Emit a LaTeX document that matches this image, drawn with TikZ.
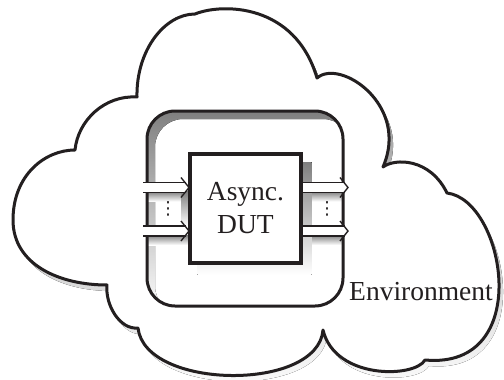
\documentclass[tikz,border=0pt]{standalone}
\usepackage{fontspec}
\setmainfont{Liberation Serif}
\newfontfamily\labelfont{Liberation Serif}
\newfontfamily\symbolfont{DejaVu Sans}
\usetikzlibrary{calc}

\definecolor{ink}{RGB}{35,31,32}
\definecolor{shade}{RGB}{178,179,183}

% outline of the environment cloud (pixel-like units, y downwards)
\newcommand\cloudoutline{(75,150) .. controls (78,120) and (105,95) .. (137,97)
 .. controls (136,50) and (165,14) .. (195,14)
 .. controls (222,3) and (295,3) .. (317,78)
 .. controls (340,58) and (410,105) .. (383,167)
 .. controls (395,158) and (430,158) .. (447,193)
 .. controls (505,200) and (535,370) .. (425,360)
 .. controls (415,378) and (335,380) .. (323,330)
 .. controls (318,392) and (145,390) .. (138,328)
 .. controls (120,330) and (105,305) .. (107,285)
 .. controls (60,285) and (13,265) .. (13,220)
 .. controls (13,175) and (45,150) .. (75,150) -- cycle}

\tikzset{
  cloudline/.style={draw=ink, line width=3pt, fill=white, line join=round},
  holeline/.style={draw=ink, line width=3pt, rounded corners=28pt},
  dutbox/.style={draw=ink, line width=3.3pt, fill=white, minimum width=111pt,
    minimum height=109pt, inner sep=0pt, align=center, text=ink,
    font=\labelfont\fontsize{27.5}{33}\selectfont},
  shaft/.style={draw=ink, line width=1.4pt, double=white, double distance=8.6pt},
  barb/.style={draw=ink, line width=1.4pt, line join=miter},
  label/.style={font=\labelfont\fontsize{27.5}{33}\selectfont, text=ink, inner sep=0pt},
  ellipsis/.style={inner sep=0pt, text=ink, font=\symbolfont\fontsize{18}{18}\selectfont}
}

\begin{document}
\begin{tikzpicture}[x=1pt, y=-1pt]
\useasboundingbox[fill=white] (0,0) rectangle (504,380);

% cloud with its drop shadow
\fill[shade, shift={(4,6)}] \cloudoutline;
\path[cloudline] \cloudoutline;

% nodes and connector end points
\node[dutbox] (dut) at (245.5,208.5) {Async.\\DUT};
\coordinate (in1) at (143,187.5);
\coordinate (in2) at (143,231);
\coordinate (in1t) at (189,187.5);
\coordinate (in2t) at (189,231);
\coordinate (out1s) at (301,187.5);
\coordinate (out2s) at (301,231);
\coordinate (out1) at (348,187.5);
\coordinate (out2) at (348,231);

% shadows inside the opening
\begin{scope}
  \clip[rounded corners=28pt] (147,111) rectangle (343,306);
  \fill[shade, even odd rule, rounded corners=28pt]
    (147,111) rectangle (343,306) (155,119) rectangle (351,314);
  \fill[shade] (147,191.5) rectangle (190,201.5);
  \fill[shade] (147,235) rectangle (190,245);
  \fill[shade] (181,191.5) rectangle (190,226);
  \fill[shade] (301,191.5) rectangle (343,201.5);
  \fill[shade] (301,235) rectangle (343,245);
  \fill[shade] ($(dut.north west)+(9,10)$) rectangle ($(dut.south east)+(9,10)$);
\end{scope}

% the opening in the environment
\draw[holeline] (147,111) rectangle (343,306);

% input and output buses
\foreach \s/\t in {in1/in1t, in2/in2t, out1s/out1, out2s/out2}{
  \draw[shaft] (\s) -- ($(\t)+(-3,0)$);
  \draw[barb] ($(\t)+(-8,-10)$) -- (\t) -- ($(\t)+(-8,10)$);
}

% device under test on top
\node[dutbox] at (dut) {Async.\\DUT};

% ellipses between the buses
\node[ellipsis] (dotsin) at (168,209) {⋮};
\node[ellipsis] (dotsout) at (327,209) {⋮};

\node[label, anchor=base west] (env) at (349,300) {Environment};
\end{tikzpicture}
\end{document}
